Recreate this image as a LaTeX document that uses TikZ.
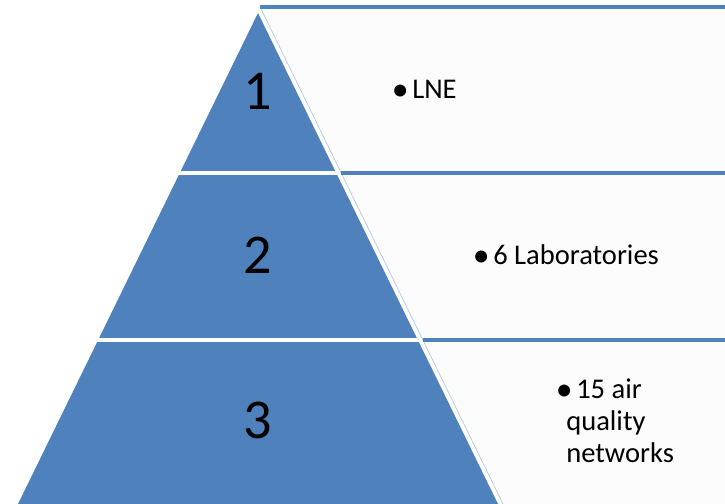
\documentclass[tikz,border=0pt]{standalone}
\usepackage{fontspec}
\setmainfont{Carlito}
\usetikzlibrary{calc}
\definecolor{bleu}{HTML}{4F81BD}
\definecolor{bleuclair}{HTML}{B3C8E3}
\newcommand{\puce}{\makebox[13.5pt][l]{\hspace*{-1pt}\raisebox{-1.2pt}{\fontsize{24}{24}\selectfont\textbullet}}}
\tikzset{
    niveau/.style={fill=bleu},
    coupe/.style={draw=white,line width=3pt},
    cadre/.style={fill=black!1},
    bord/.style={draw=bleuclair,line width=0.5pt},
    haut/.style={draw=bleu,line width=2.8pt},
    chiffre/.style={font=\fontsize{40}{48}\selectfont},
    liste/.style={anchor=base west,align=left,inner sep=0pt,font=\fontsize{20.3}{22.8}\selectfont},
  }

\begin{document}
\begin{tikzpicture}[x=0.025cm,y=-0.025cm]
	\useasboundingbox (0,0) rectangle (725,504);
	\clip (0,0) rectangle (725,504);
	%sommet et base de la pyramide
	\coordinate (S) at (258,13);
	\coordinate (G) at (18,504);
	\coordinate (D) at (498,504);
	\coordinate (E) at (735,0);
	%coupes entre les niveaux
	\coordinate (G1) at ($(S)!{160/491}!(G)$);
	\coordinate (D1) at ($(S)!{160/491}!(D)$);
	\coordinate (G2) at ($(S)!{327/491}!(G)$);
	\coordinate (D2) at ($(S)!{327/491}!(D)$);
	%bord gauche des cadres
	\coordinate (C0) at ($(S)!{-6/491}!(D)+(5,0)$);
	\coordinate (C1) at ($(D1)+(5,0)$);
	\coordinate (C2) at ($(D2)+(5,0)$);
	\coordinate (C3) at ($(D)+(5,0)$);
	%cadres de droite
	\fill[cadre] (C0) -- (C0 -| E) -- (C1 -| E) -- (C1) -- cycle;
	\fill[cadre] (C1) -- (C1 -| E) -- (C2 -| E) -- (C2) -- cycle;
	\fill[cadre] (C2) -- (C2 -| E) -- (C3 -| E) -- (C3) -- cycle;
	\draw[bord] (C0) -- (C3);
	\draw[haut] (C0) -- (C0 -| E);
	\draw[haut] (C1) -- (C1 -| E);
	\draw[haut] (C2) -- (C2 -| E);
	%pyramide
	\fill[niveau] (S) -- (G) -- (D) -- cycle;
	\draw[coupe] ($(G1)+(-5,0)$) -- ($(D1)+(3,0)$);
	\draw[coupe] ($(G2)+(-5,0)$) -- ($(D2)+(3,0)$);
	\node[chiffre] (n1) at (258,91) {1};
	\node[chiffre] (n2) at (258,255) {2};
	\node[chiffre] (n3) at (258,420) {3};
	%textes
	\node[liste] (t1) at (393,99) {\puce LNE};
	\node[liste] (t2) at (474,265) {\puce 6 Laboratories};
	\node[liste] (t3) at (557,463) {\puce 15 air\\\hspace*{6.4pt}quality\\\hspace*{6.4pt}networks};
\end{tikzpicture}
\end{document}
